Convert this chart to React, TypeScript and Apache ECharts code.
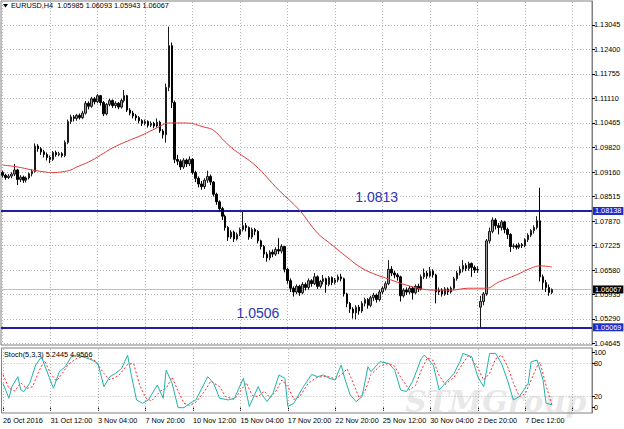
import React, { useEffect, useRef } from 'react';
import * as echarts from 'echarts';

// ---------- data ----------
const SLOT_COUNT = 199; // bar slots across the price panel (incl. empty right margin)

const xTickIdx = [0, 16, 32, 48, 64, 80, 96, 112, 128, 144, 160, 176, 192];
const xTickLabels = [
  '26 Oct 2016', '31 Oct 12:00', '3 Nov 04:00', '7 Nov 20:00', '10 Nov 12:00', '15 Nov 04:00',
  '17 Nov 20:00', '22 Nov 20:00', '25 Nov 12:00', '30 Nov 04:00', '2 Dec 20:00', '7 Dec 12:00', '',
];

const priceTicks = [
  1.13045, 1.124, 1.11755, 1.1111, 1.10465, 1.0982, 1.0916, 1.08515, 1.0787, 1.07225, 1.0658,
  1.05935, 1.0529, 1.04645,
];
const stochTicks = [0, 20, 80, 100];
const stochLevels = [20, 80];

const resistance = 1.08138;
const support = 1.05069;
const lastBid = 1.06067;
const levelTexts = ['1.0813', '1.0506'];

// [open, close, low, high]
const candles: number[][] = [
  [1.0915, 1.0908, 1.0902, 1.092], [1.0908, 1.0902, 1.0896, 1.0912], [1.0902, 1.0906, 1.0898, 1.0911],
  [1.0906, 1.0911, 1.09, 1.0916], [1.0911, 1.0922, 1.0906, 1.0938], [1.0922, 1.0897, 1.0882, 1.0925],
  [1.0897, 1.0903, 1.089, 1.0908], [1.0903, 1.0895, 1.0888, 1.0907], [1.0895, 1.0901, 1.0889, 1.0905],
  [1.0901, 1.0912, 1.0897, 1.0915], [1.0912, 1.0918, 1.0905, 1.0924], [1.0918, 1.0985, 1.0915, 1.0992],
  [1.0985, 1.0978, 1.097, 1.099], [1.0978, 1.097, 1.0962, 1.0982], [1.097, 1.0963, 1.0955, 1.0975],
  [1.0963, 1.0955, 1.0947, 1.0968], [1.0955, 1.095, 1.094, 1.096], [1.095, 1.0968, 1.0946, 1.0972],
  [1.0968, 1.0962, 1.0957, 1.0973], [1.0962, 1.0965, 1.0958, 1.097], [1.0965, 1.096, 1.0955, 1.0969],
  [1.096, 1.0995, 1.0956, 1.1], [1.0995, 1.105, 1.099, 1.1055], [1.105, 1.1062, 1.1043, 1.1068],
  [1.1062, 1.1058, 1.105, 1.1067], [1.1058, 1.1066, 1.1052, 1.107], [1.1066, 1.106, 1.1055, 1.1071],
  [1.106, 1.1072, 1.1056, 1.1078], [1.1072, 1.1098, 1.1068, 1.1104], [1.1098, 1.109, 1.1082, 1.1103],
  [1.109, 1.111, 1.1086, 1.1115], [1.111, 1.1102, 1.1095, 1.1114], [1.1102, 1.1118, 1.1098, 1.1122],
  [1.1118, 1.11, 1.1092, 1.112], [1.11, 1.107, 1.1064, 1.1104], [1.107, 1.1095, 1.1066, 1.1099],
  [1.1095, 1.1105, 1.109, 1.111], [1.1105, 1.1092, 1.1086, 1.1108], [1.1092, 1.1098, 1.1085, 1.1103],
  [1.1098, 1.1088, 1.1082, 1.1101], [1.1088, 1.1105, 1.1084, 1.111], [1.1105, 1.1118, 1.11, 1.1133],
  [1.1118, 1.108, 1.1075, 1.112], [1.108, 1.1072, 1.1066, 1.1085], [1.1072, 1.1065, 1.1058, 1.1078],
  [1.1065, 1.106, 1.1052, 1.107], [1.106, 1.1052, 1.1045, 1.1064], [1.1052, 1.1045, 1.1038, 1.1056],
  [1.1045, 1.105, 1.104, 1.1055], [1.105, 1.104, 1.1034, 1.1053], [1.104, 1.1045, 1.1035, 1.105],
  [1.1045, 1.1038, 1.1032, 1.1049], [1.1038, 1.1048, 1.1034, 1.1058], [1.1048, 1.1025, 1.102, 1.1052],
  [1.1025, 1.1015, 1.1005, 1.103], [1.1015, 1.114, 1.0994, 1.115], [1.114, 1.125, 1.113, 1.13],
  [1.125, 1.11, 1.1085, 1.1258], [1.11, 1.095, 1.094, 1.1105], [1.095, 1.0945, 1.0935, 1.0962],
  [1.0945, 1.093, 1.0922, 1.095], [1.093, 1.0948, 1.0925, 1.0953], [1.0948, 1.0938, 1.093, 1.0952],
  [1.0938, 1.095, 1.0932, 1.0958], [1.095, 1.0915, 1.091, 1.0953], [1.0915, 1.09, 1.089, 1.092],
  [1.09, 1.0885, 1.0876, 1.0905], [1.0885, 1.0878, 1.087, 1.0893], [1.0878, 1.0895, 1.0872, 1.09],
  [1.0895, 1.0905, 1.0888, 1.092], [1.0905, 1.089, 1.0882, 1.091], [1.089, 1.0858, 1.0852, 1.0893],
  [1.0858, 1.0838, 1.083, 1.0862], [1.0838, 1.082, 1.0812, 1.0842], [1.082, 1.08, 1.079, 1.0825],
  [1.08, 1.077, 1.0762, 1.0804], [1.077, 1.0745, 1.0735, 1.0774], [1.0745, 1.0758, 1.074, 1.0763],
  [1.0758, 1.074, 1.0732, 1.0762], [1.074, 1.0752, 1.0736, 1.0757], [1.0752, 1.0765, 1.0748, 1.077],
  [1.0765, 1.0775, 1.076, 1.0811], [1.0775, 1.077, 1.076, 1.0782], [1.077, 1.0745, 1.0738, 1.0773],
  [1.0745, 1.0765, 1.074, 1.077], [1.0765, 1.076, 1.075, 1.0769], [1.076, 1.0735, 1.0728, 1.0763],
  [1.0735, 1.072, 1.0712, 1.0738], [1.072, 1.07, 1.069, 1.0724], [1.07, 1.069, 1.068, 1.0706],
  [1.069, 1.0705, 1.0684, 1.071], [1.0705, 1.07, 1.0692, 1.0712], [1.07, 1.0712, 1.0695, 1.0718],
  [1.0712, 1.0708, 1.07, 1.0742], [1.0708, 1.072, 1.0702, 1.0726], [1.072, 1.066, 1.0652, 1.0722],
  [1.066, 1.063, 1.0622, 1.0664], [1.063, 1.061, 1.06, 1.0636], [1.061, 1.06, 1.0588, 1.0615],
  [1.06, 1.0615, 1.0594, 1.062], [1.0615, 1.0598, 1.059, 1.0619], [1.0598, 1.062, 1.0594, 1.0626],
  [1.062, 1.0612, 1.0604, 1.0625], [1.0612, 1.063, 1.0606, 1.0636], [1.063, 1.0622, 1.0614, 1.0634],
  [1.0622, 1.064, 1.0618, 1.065], [1.064, 1.0615, 1.0608, 1.0644], [1.0615, 1.0628, 1.061, 1.0632],
  [1.0628, 1.0635, 1.062, 1.0645], [1.0635, 1.062, 1.0598, 1.0638], [1.062, 1.0638, 1.0615, 1.0642],
  [1.0638, 1.0625, 1.0618, 1.0641], [1.0625, 1.0632, 1.062, 1.0637], [1.0632, 1.064, 1.0626, 1.0646],
  [1.064, 1.0635, 1.0628, 1.0648], [1.0635, 1.0595, 1.0588, 1.0638], [1.0595, 1.057, 1.056, 1.0598],
  [1.057, 1.0555, 1.0545, 1.0574], [1.0555, 1.0545, 1.053, 1.056], [1.0545, 1.056, 1.0528, 1.0565],
  [1.056, 1.055, 1.054, 1.0566], [1.055, 1.057, 1.0545, 1.0576], [1.057, 1.058, 1.0562, 1.0585],
  [1.058, 1.0565, 1.0556, 1.0584], [1.0565, 1.0585, 1.056, 1.059], [1.0585, 1.0592, 1.0576, 1.0598],
  [1.0592, 1.058, 1.0572, 1.0596], [1.058, 1.06, 1.0575, 1.0606], [1.06, 1.061, 1.0594, 1.0615],
  [1.061, 1.0622, 1.0604, 1.0628], [1.0622, 1.066, 1.0618, 1.0684], [1.066, 1.065, 1.0642, 1.0668],
  [1.065, 1.0645, 1.0636, 1.0656], [1.0645, 1.064, 1.063, 1.065], [1.064, 1.059, 1.0575, 1.0643],
  [1.059, 1.0605, 1.0585, 1.061], [1.0605, 1.06, 1.0592, 1.0612], [1.06, 1.061, 1.0594, 1.0616],
  [1.061, 1.0598, 1.058, 1.0614], [1.0598, 1.0615, 1.0594, 1.062], [1.0615, 1.0608, 1.06, 1.0622],
  [1.0608, 1.064, 1.0604, 1.0646], [1.064, 1.065, 1.0634, 1.0662], [1.065, 1.0642, 1.0635, 1.0656],
  [1.0642, 1.0655, 1.0638, 1.0666], [1.0655, 1.0645, 1.0638, 1.066], [1.0645, 1.06, 1.057, 1.0648],
  [1.06, 1.0605, 1.0592, 1.0612], [1.0605, 1.0595, 1.0588, 1.061], [1.0595, 1.0608, 1.059, 1.0613],
  [1.0608, 1.06, 1.0592, 1.0612], [1.06, 1.061, 1.0596, 1.0615], [1.061, 1.0635, 1.0605, 1.064],
  [1.0635, 1.065, 1.063, 1.0656], [1.065, 1.066, 1.0644, 1.0668], [1.066, 1.067, 1.0652, 1.0684],
  [1.067, 1.0662, 1.0655, 1.0676], [1.0662, 1.0675, 1.0656, 1.068], [1.0675, 1.0665, 1.064, 1.0678],
  [1.0665, 1.0658, 1.065, 1.067], [1.0658, 1.066, 1.065, 1.0668], [1.056, 1.0575, 1.0506, 1.059],
  [1.0575, 1.0595, 1.0565, 1.06], [1.0595, 1.0735, 1.059, 1.074], [1.0735, 1.076, 1.0728, 1.077],
  [1.076, 1.079, 1.0755, 1.0797], [1.079, 1.0775, 1.0765, 1.0795], [1.0775, 1.077, 1.0752, 1.0782],
  [1.077, 1.0785, 1.0762, 1.079], [1.0785, 1.0765, 1.0755, 1.0788], [1.0765, 1.0752, 1.074, 1.077],
  [1.0752, 1.072, 1.0706, 1.0755], [1.072, 1.0722, 1.0714, 1.0728], [1.0722, 1.0718, 1.0712, 1.0727],
  [1.0718, 1.0725, 1.0713, 1.073], [1.0725, 1.0722, 1.0716, 1.0729], [1.0722, 1.0738, 1.0718, 1.0742],
  [1.0738, 1.075, 1.0732, 1.0755], [1.075, 1.0762, 1.0745, 1.0766], [1.0762, 1.077, 1.0754, 1.0776],
  [1.077, 1.0788, 1.0765, 1.08], [1.0788, 1.064, 1.0628, 1.0875], [1.064, 1.0625, 1.0606, 1.0646],
  [1.0625, 1.0612, 1.06, 1.0632], [1.0612, 1.0599, 1.059, 1.062], [1.05985, 1.06067, 1.05943, 1.06093],
];

// moving average, read at [bar index, price]
const maPoints: number[][] = [
  [0, 1.0935], [5, 1.093], [10, 1.0922], [14, 1.0917], [17, 1.0915], [20, 1.0917], [23, 1.0922],
  [25, 1.093], [29, 1.0943], [33, 1.0961], [37, 1.098], [42, 1.0998], [47, 1.1014], [52, 1.1033],
  [56, 1.1046], [62, 1.1046], [68, 1.1035], [71, 1.1027], [75, 1.0996], [78, 1.0975], [85, 1.0935],
  [93, 1.0869], [100, 1.0816], [106, 1.0756], [111, 1.0724], [116, 1.0692], [121, 1.0663],
  [126, 1.0645], [129, 1.0637], [137, 1.0616], [145, 1.0605], [151, 1.0605], [157, 1.061],
  [163, 1.061], [167, 1.0626], [173, 1.0645], [178, 1.0663], [181, 1.0669], [185, 1.0666],
];

// stochastic %K (main) and %D (signal), [bar index, value]
const stochMain: number[][] = [
  [0, 44], [2, 17], [3, 38], [5, 56], [6, 32], [7, 29], [9, 44], [11, 77], [13, 92], [14, 77],
  [17, 35], [19, 65], [21, 74], [23, 92], [25, 95], [27, 92], [30, 86], [32, 80], [34, 38], [36, 56],
  [38, 62], [40, 71], [42, 95], [43, 65], [45, 14], [47, 8], [49, 14], [52, 41], [54, 17], [55, 68],
  [57, 44], [59, 0], [61, 0], [63, 8], [65, 14], [69, 56], [71, 44], [73, 17], [76, 14], [78, 17],
  [81, 53], [83, 2], [86, 38], [87, 26], [89, 11], [91, 26], [93, 59], [95, 53], [96, 2], [98, 8],
  [101, 36], [104, 60], [106, 56], [108, 59], [110, 53], [112, 50], [113, 65], [114, 77], [115, 56],
  [117, 23], [119, 11], [121, 20], [123, 74], [124, 65], [127, 83], [130, 80], [132, 68], [134, 32],
  [136, 29], [138, 47], [141, 89], [142, 95], [145, 77], [147, 32], [150, 50], [152, 62], [154, 83],
  [155, 98], [158, 92], [160, 56], [162, 38], [164, 98], [166, 98], [168, 80], [170, 50], [172, 14],
  [174, 20], [177, 44], [178, 83], [180, 86], [182, 50], [183, 8], [185, 5.2445],
];
const stochSignal: number[][] = [
  [0, 60], [2, 35], [4, 30], [6, 45], [8, 35], [10, 38], [12, 65], [14, 85], [16, 62], [18, 48],
  [20, 62], [22, 78], [25, 90], [28, 93], [31, 85], [34, 62], [36, 50], [39, 58], [42, 78], [44, 80],
  [46, 42], [48, 18], [50, 12], [53, 30], [55, 35], [57, 55], [59, 30], [61, 8], [63, 4], [65, 10],
  [68, 30], [70, 48], [73, 38], [75, 20], [78, 15], [80, 30], [82, 45], [84, 22], [86, 20], [88, 30],
  [90, 18], [92, 30], [94, 50], [96, 38], [98, 15], [100, 20], [103, 45], [106, 55], [109, 57],
  [112, 52], [114, 60], [116, 70], [118, 45], [120, 18], [122, 30], [124, 60], [127, 75], [130, 80],
  [132, 75], [134, 55], [137, 32], [139, 40], [141, 68], [143, 90], [145, 85], [147, 58], [149, 42],
  [152, 55], [155, 80], [157, 95], [160, 72], [162, 50], [164, 62], [166, 88], [168, 95], [170, 75],
  [172, 45], [174, 20], [176, 25], [178, 50], [180, 75], [181, 82], [183, 40], [185, 4.9566],
];

const titleText = 'EURUSD,H4  1.05985 1.06093 1.05943 1.06067';
const stochText = 'Stoch(5,3,3) 5.2445 4.9566';
const watermarkText = 'STMGroup';

// ---------- component ----------
const FONT = '"Liberation Sans", Arial, sans-serif';

export default function App() {
  const ref = useRef<HTMLDivElement>(null);

  useEffect(() => {
    if (!ref.current) return;
    const chart = echarts.init(ref.current, undefined, { renderer: 'svg' });
    const cats = Array.from({ length: SLOT_COUNT }, (_, i) => String(i));
    const labelMap = new Map<number, string>();
    xTickIdx.forEach((v, k) => labelMap.set(v, xTickLabels[k]));
    const isTick = (i: number) => labelMap.has(i);
    const isLabel = (i: number) => !!labelMap.get(i);

    const gridLine = { color: '#b4b4b4', width: 1, type: [1, 2] as any };
    const vLines = xTickIdx.map((i) => ({ xAxis: i }));

    const option: any = {
      animation: false,
      backgroundColor: '#ffffff',
      title: [
        {
          text: titleText, left: 11, top: 2, padding: 0,
          textStyle: { fontSize: 7.3, fontWeight: 'normal', color: '#000', fontFamily: FONT },
        },
        {
          text: stochText, left: 4, top: 351, padding: 0,
          textStyle: { fontSize: 7.3, fontWeight: 'normal', color: '#000', fontFamily: FONT },
        },
      ],
      graphic: [
        { type: 'polygon', shape: { points: [[3, 4], [8, 4], [5.5, 7.5]] }, style: { fill: '#000' }, z: 10 },
        {
          type: 'text', left: 405, top: 386, z: -1, silent: true,
          style: {
            text: watermarkText, fill: 'rgba(190,190,190,0.35)',
            font: 'italic bold 30px "DejaVu Serif", serif',
          },
        },
      ],
      grid: [
        { left: 1, right: 32, top: 1, height: 344, show: true, borderColor: '#808080', borderWidth: 1 },
        { left: 1, right: 32, top: 348, height: 65, show: true, borderColor: '#808080', borderWidth: 1 },
      ],
      xAxis: [
        {
          type: 'category', gridIndex: 0, data: cats, boundaryGap: true,
          axisLine: { show: false }, axisTick: { show: false }, axisLabel: { show: false }, splitLine: { show: false },
        },
        {
          type: 'category', gridIndex: 1, data: cats, boundaryGap: true,
          axisLine: { show: false },
          axisTick: {
            show: true, alignWithLabel: true, length: 3, interval: (i: number) => isTick(i),
            lineStyle: { color: '#000', width: 1 },
          },
          axisLabel: {
            show: true, interval: (i: number) => isLabel(i), align: 'left', margin: 4,
            formatter: (_v: string, i: number) => labelMap.get(i) || '',
            fontSize: 7.3, color: '#000', fontFamily: FONT,
          },
          splitLine: { show: false },
        },
      ],
      yAxis: [
        {
          type: 'value', gridIndex: 0, position: 'right', min: 1.04602, max: 1.13678,
          axisLine: { show: true, lineStyle: { color: '#808080' } },
          axisTick: { show: true, length: 3, customValues: priceTicks, lineStyle: { color: '#000' } },
          axisLabel: {
            show: true, customValues: priceTicks, margin: 2,
            formatter: (v: number) => v.toFixed(5), fontSize: 7.3, color: '#000', fontFamily: FONT,
          },
          splitLine: { show: false },
        },
        {
          type: 'value', gridIndex: 1, position: 'right', min: -9.6, max: 107.8,
          axisLine: { show: true, lineStyle: { color: '#808080' } },
          axisTick: { show: true, length: 3, customValues: stochTicks, lineStyle: { color: '#000' } },
          axisLabel: {
            show: true, customValues: stochTicks, margin: 2,
            formatter: (v: number) => String(v), fontSize: 7.3, color: '#000', fontFamily: FONT,
          },
          splitLine: { show: false },
        },
      ],
      series: [
        {
          name: 'priceGrid', type: 'line', xAxisIndex: 0, yAxisIndex: 0, data: [], silent: true,
          markLine: {
            silent: true, z: 1, symbol: ['none', 'none'], label: { show: false }, precision: 5,
            lineStyle: gridLine, emphasis: { disabled: true },
            data: [...priceTicks.map((v) => ({ yAxis: v })), ...vLines],
          },
        },
        {
          name: 'stochGrid', type: 'line', xAxisIndex: 1, yAxisIndex: 1, data: [], silent: true,
          markLine: {
            silent: true, z: 1, symbol: ['none', 'none'], label: { show: false },
            lineStyle: gridLine, emphasis: { disabled: true },
            data: [...stochLevels.map((v) => ({ yAxis: v })), ...vLines],
          },
        },
        {
          name: 'EURUSD', type: 'candlestick', xAxisIndex: 0, yAxisIndex: 0, data: candles,
          barWidth: 2, z: 3,
          itemStyle: {
            color: '#9a9a9a', color0: '#000000', borderColor: '#1a1a1a', borderColor0: '#000000', borderWidth: 1,
          },
          markLine: {
            silent: true, symbol: ['none', 'none'], z: 2, precision: 5,
            label: {
              show: true, position: 'end', distance: 1, fontSize: 7.3, fontFamily: FONT, color: '#fff',
              padding: [1, 2, 0, 2], formatter: (p: any) => Number(p.value).toFixed(5),
            },
            data: [
              {
                yAxis: lastBid, lineStyle: { color: '#c0c0c0', width: 1, type: 'solid' },
                label: { backgroundColor: '#000' },
              },
              {
                yAxis: resistance, lineStyle: { color: '#1e1ea8', width: 2, type: 'solid' },
                label: { backgroundColor: '#1e2ccc' },
              },
              {
                yAxis: support, lineStyle: { color: '#1e1ea8', width: 2, type: 'solid' },
                label: { backgroundColor: '#1e2ccc' },
              },
            ],
          },
          markPoint: {
            silent: true, symbol: 'circle', symbolSize: 0,
            label: {
              show: true, position: 'inside', fontSize: 14, color: '#2a35b0', fontFamily: FONT,
              formatter: (p: any) => p.name,
            },
            data: [
              { name: levelTexts[0], coord: [126, 1.0851] },
              { name: levelTexts[1], coord: [86, 1.0545] },
            ],
          },
        },
        {
          name: 'MA', type: 'line', xAxisIndex: 0, yAxisIndex: 0, data: maPoints, z: 4,
          showSymbol: false, smooth: 0.4, silent: true,
          lineStyle: { color: '#e03c3c', width: 1 },
        },
        {
          name: 'Signal', type: 'line', xAxisIndex: 1, yAxisIndex: 1, data: stochSignal, z: 3,
          showSymbol: false, silent: true,
          lineStyle: { color: '#ff2a2a', width: 1, type: [2, 2] },
        },
        {
          name: 'Main', type: 'line', xAxisIndex: 1, yAxisIndex: 1, data: stochMain, z: 4,
          showSymbol: false, silent: true,
          lineStyle: { color: '#20b2aa', width: 1 },
        },
      ],
    };

    chart.setOption(option);
    return () => chart.dispose();
  }, []);

  return (
    <div
      ref={ref}
      style={{ position: 'fixed', left: 0, top: 0, width: 624, height: 429, background: '#fff' }}
    />
  );
}
